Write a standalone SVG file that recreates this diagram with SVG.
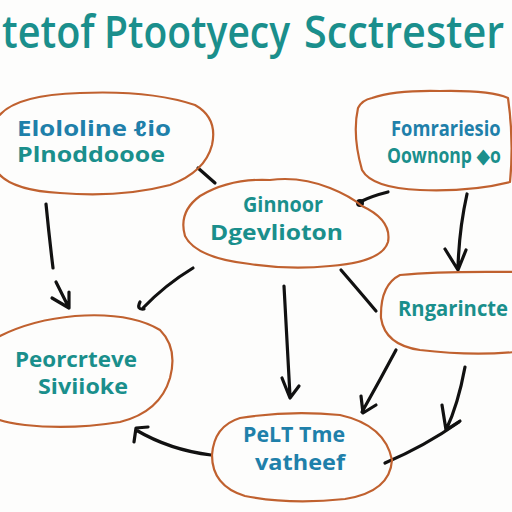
<svg xmlns="http://www.w3.org/2000/svg" width="512" height="512" viewBox="0 0 512 512">
<defs>
<style>
.bg{fill:#fdfdfc}
.node{fill:none;stroke:#c0612f;stroke-width:2.2;stroke-linejoin:round}
.title{font-family:"Open Sans","DejaVu Sans",sans-serif;font-weight:600;fill:#1a8f8c;font-size:46px}
.lbl{font-family:"Open Sans","DejaVu Sans",sans-serif;font-weight:700;font-size:21px}
.teal{fill:#1a8f8c}
.blue{fill:#1f80aa}
.con{fill:none;stroke:#111;stroke-width:3.2;stroke-linecap:round;stroke-linejoin:round}
</style>
</defs>
<rect class="bg" x="0" y="0" width="512" height="512"/>
<g id="title">
<text class="title" transform="translate(2,48) scale(0.82,1)" x="0" y="0" textLength="113" lengthAdjust="spacingAndGlyphs">tetof</text>
<text class="title" transform="translate(104,48) scale(0.82,1)" x="0" y="0" textLength="227" lengthAdjust="spacingAndGlyphs">Ptootyecy</text>
<text class="title" transform="translate(304,48) scale(0.82,1)" x="0" y="0" textLength="244" lengthAdjust="spacingAndGlyphs">Scctrester</text>
</g>
<g id="connectors">
<path class="con" d="M198,168 L215,183"/>
<path class="con" d="M46,204 Q49,235 53,268"/>
<path class="con" d="M56,282 L69,308 M69,292 L69,308 L52,298"/>
<path class="con" d="M193,268 Q165,285 143,308 M140,302 Q136,310 144,309"/>
<path class="con" d="M388,192 Q372,196 362,201"/>
<circle cx="360" cy="203" r="4" fill="#111"/>
<path class="con" d="M467,194 Q459,230 458,268 M445,249 L458,270 L466,250"/>
<path class="con" d="M284,286 Q287,340 290,396 M282,378 L290,398 L299,386"/>
<path class="con" d="M341,270 Q360,292 376,311"/>
<path class="con" d="M396,350 Q380,380 362,412 M361,396 L363,413 L376,405"/>
<path class="con" d="M465,367 Q458,405 446,430 M442,405 L446,430 L460,421"/>
<path class="con" d="M385,463 Q425,446 459,422"/>
<path class="con" d="M211,455 Q170,450 136,430 M134,442 L136,428 L148,427"/>
</g>
<g id="node-top-left">
<path class="node" d="M-4,120 Q10,95 80,93 Q150,90 195,105 Q218,118 212,145 Q205,172 170,185 Q120,198 60,193 Q8,190 -4,170"/>
<text class="lbl blue" x="17" y="136" textLength="154" lengthAdjust="spacingAndGlyphs">Elololine ℓio</text>
<text class="lbl teal" x="17" y="162" textLength="148" lengthAdjust="spacingAndGlyphs">Plnoddoooe</text>
</g>
<g id="node-top-right">
<path class="node" d="M372,98 Q395,90 440,91 Q490,90 508,98 Q514,140 510,182 Q470,192 420,190 Q372,188 362,170 Q352,135 358,108 Q362,100 372,98 Z"/>
<text class="lbl blue" transform="translate(391,136) scale(0.85,1)" x="0" y="0" textLength="129" lengthAdjust="spacingAndGlyphs">Fomrariesio</text>
<text class="lbl teal" transform="translate(387,163) scale(0.85,1)" x="0" y="0" textLength="134" lengthAdjust="spacingAndGlyphs">Oownonp ◆o</text>
</g>
<g id="node-center">
<path class="node" d="M200,196 Q230,178 270,180 Q300,176 330,188 Q350,196 362,206 Q392,220 388,242 Q382,262 330,266 Q290,270 250,264 Q196,258 185,236 Q178,212 200,196 Z"/>
<text class="lbl teal" x="243" y="212" textLength="80" lengthAdjust="spacingAndGlyphs">Ginnoor</text>
<text class="lbl teal" x="210" y="240" textLength="133" lengthAdjust="spacingAndGlyphs">Dgevlioton</text>
</g>
<g id="node-left-bottom">
<path class="node" d="M-4,338 Q30,320 75,316 Q130,312 160,330 Q178,348 170,378 Q160,412 120,422 Q70,430 25,425 Q0,422 -4,418"/>
<text class="lbl teal" x="15" y="367" textLength="122" lengthAdjust="spacingAndGlyphs">Peorcrteve</text>
<text class="lbl teal" x="38" y="394" textLength="90" lengthAdjust="spacingAndGlyphs">Siviioke</text>
</g>
<g id="node-right-mid">
<path class="node" d="M400,275 Q440,271 515,272 L515,352 Q470,356 420,350 Q385,345 381,318 Q380,285 400,275 Z"/>
<text class="lbl teal" x="398" y="316" textLength="110" lengthAdjust="spacingAndGlyphs">Rngarincte</text>
</g>
<g id="node-bottom">
<path class="node" d="M240,418 Q290,410 340,415 Q385,425 392,460 Q390,492 345,499 Q290,505 245,496 Q212,486 212,455 Q214,426 240,418 Z"/>
<text class="lbl blue" x="243" y="442" textLength="102" lengthAdjust="spacingAndGlyphs">PeLT Tme</text>
<text class="lbl blue" x="255" y="470" textLength="90" lengthAdjust="spacingAndGlyphs">vatheef</text>
</g>
</svg>
